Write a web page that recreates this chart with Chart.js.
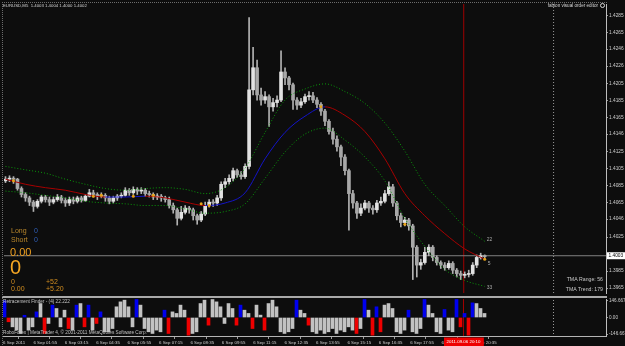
<!DOCTYPE html>
<html>
<head>
<meta charset="utf-8">
<script src="https://cdn.jsdelivr.net/npm/chart.js@4.4.1/dist/chart.umd.min.js"></script>
<style>
  html, body { margin: 0; padding: 0; background: #0d0d0d; }
  #wrap { position: relative; width: 625px; height: 346px; overflow: hidden; background: #0d0d0d; }
  #main { position: absolute; left: 0; top: 0; }
  #sub { position: absolute; left: 0; top: 297px; }
  #sep { position: absolute; left: 2px; top: 296px; width: 605px; height: 2px; background: #a9a9a9; }
  #frame { position: absolute; left: 2px; top: 2px; width: 604px; height: 344px;
           border-left: 1px dotted #6c6c6c; border-top: 1px dotted #6c6c6c; pointer-events: none; }
</style>
</head>
<body>
<div id="wrap">
  <canvas id="main" width="625" height="297"></canvas>
  <canvas id="sub" width="625" height="49"></canvas>
  <div id="sep"></div>
  <div id="frame"></div>
</div>
<script>
// EURUSD M5, 6 Sep 2011 (candles)
const open = [
  1.4091,1.4093,1.4094,1.4093,1.4082,1.4075,1.4071,1.4066,1.4061,1.4067,
  1.4072,1.4069,1.4066,1.4069,1.4072,1.4068,1.4065,1.4069,1.4067,1.4071,
  1.4068,1.4073,1.4077,1.4075,1.4073,1.4074,1.4071,1.4067,1.4071,1.4073,
  1.4074,1.4080,1.4077,1.4081,1.4079,1.4080,1.4076,1.4075,1.4072,1.4073,
  1.4071,1.4069,1.4062,1.4057,1.4047,1.4054,1.4059,1.4057,1.4050,1.4045,
  1.4052,1.4062,1.4066,1.4065,1.4071,1.4087,1.4090,1.4094,1.4103,1.4098,
  1.4096,1.4108,1.4198,1.4224,1.4192,1.4186,1.4190,1.4178,1.4183,1.4186,
  1.4219,1.4212,1.4204,1.4186,1.4180,1.4184,1.4190,1.4191,1.4186,1.4181,
  1.4173,1.4161,1.4149,1.4140,1.4131,1.4119,1.4103,1.4076,1.4065,1.4053,
  1.4059,1.4065,1.4059,1.4057,1.4065,1.4067,1.4076,1.4084,1.4065,1.4050,
  1.4042,1.4045,1.4038,1.4013,1.3992,1.3995,1.4007,1.4013,1.4001,1.3995,
  1.3992,1.3989,1.3994,1.3986,1.3982,1.3980,1.3981,1.3982,1.3992,1.4001,
  1.4003
];
const high = [
  1.4096,1.4097,1.4096,1.4094,1.4084,1.4077,1.4073,1.4068,1.4069,1.4074,
  1.4074,1.4072,1.4072,1.4075,1.4074,1.4071,1.4072,1.4072,1.4073,1.4073,
  1.4075,1.4081,1.4080,1.4077,1.4077,1.4076,1.4073,1.4073,1.4075,1.4077,
  1.4083,1.4082,1.4084,1.4083,1.4083,1.4082,1.4079,1.4077,1.4076,1.4075,
  1.4073,1.4072,1.4065,1.4059,1.4061,1.4062,1.4061,1.4059,1.4052,1.4055,
  1.4066,1.4069,1.4069,1.4074,1.4090,1.4094,1.4098,1.4106,1.4105,1.4102,
  1.4111,1.4283,1.4248,1.4233,1.4200,1.4196,1.4192,1.4188,1.4191,1.4244,
  1.4224,1.4214,1.4206,1.4189,1.4188,1.4193,1.4196,1.4195,1.4189,1.4183,
  1.4175,1.4163,1.4153,1.4144,1.4133,1.4122,1.4105,1.4080,1.4067,1.4064,
  1.4068,1.4067,1.4062,1.4068,1.4072,1.4080,1.4090,1.4087,1.4067,1.4053,
  1.4048,1.4047,1.4040,1.4015,1.3999,1.4013,1.4016,1.4015,1.4003,1.3997,
  1.3995,1.3997,1.3996,1.3988,1.3985,1.3984,1.3986,1.3995,1.4004,1.4006,
  1.4004
];
const low = [
  1.4089,1.4090,1.4088,1.4080,1.4072,1.4067,1.4062,1.4055,1.4059,1.4065,
  1.4066,1.4062,1.4064,1.4067,1.4065,1.4061,1.4062,1.4064,1.4065,1.4066,
  1.4067,1.4072,1.4072,1.4069,1.4071,1.4067,1.4064,1.4065,1.4068,1.4071,
  1.4073,1.4074,1.4075,1.4075,1.4076,1.4073,1.4072,1.4069,1.4069,1.4067,
  1.4066,1.4059,1.4053,1.4039,1.4045,1.4052,1.4053,1.4045,1.4040,1.4043,
  1.4050,1.4060,1.4061,1.4062,1.4068,1.4083,1.4087,1.4091,1.4095,1.4093,
  1.4094,1.4105,1.4192,1.4186,1.4180,1.4182,1.4155,1.4173,1.4178,1.4184,
  1.4204,1.4198,1.4175,1.4175,1.4177,1.4182,1.4186,1.4183,1.4177,1.4168,
  1.4156,1.4146,1.4134,1.4126,1.4109,1.4098,1.4033,1.4059,1.4047,1.4050,
  1.4057,1.4054,1.4052,1.4054,1.4062,1.4065,1.4074,1.4061,1.4045,1.4037,
  1.4038,1.4033,1.3975,1.3978,1.3987,1.3993,1.4003,1.3997,1.3992,1.3988,
  1.3986,1.3987,1.3982,1.3978,1.3975,1.3977,1.3978,1.3980,1.3989,1.3999,
  1.4000
];
const close = [
  1.4093,1.4094,1.4093,1.4082,1.4075,1.4071,1.4066,1.4061,1.4067,1.4072,
  1.4069,1.4066,1.4069,1.4072,1.4068,1.4065,1.4069,1.4067,1.4071,1.4068,
  1.4073,1.4077,1.4075,1.4073,1.4074,1.4071,1.4067,1.4071,1.4073,1.4074,
  1.4080,1.4077,1.4081,1.4079,1.4080,1.4076,1.4075,1.4072,1.4073,1.4071,
  1.4069,1.4062,1.4057,1.4047,1.4054,1.4059,1.4057,1.4050,1.4045,1.4052,
  1.4062,1.4066,1.4065,1.4071,1.4087,1.4090,1.4094,1.4103,1.4098,1.4096,
  1.4108,1.4198,1.4224,1.4192,1.4186,1.4190,1.4178,1.4183,1.4186,1.4219,
  1.4212,1.4204,1.4186,1.4180,1.4184,1.4190,1.4191,1.4186,1.4181,1.4173,
  1.4161,1.4149,1.4140,1.4131,1.4119,1.4103,1.4076,1.4065,1.4053,1.4059,
  1.4065,1.4059,1.4057,1.4065,1.4067,1.4076,1.4084,1.4065,1.4050,1.4042,
  1.4045,1.4038,1.4013,1.3992,1.3995,1.4007,1.4013,1.4001,1.3995,1.3992,
  1.3989,1.3994,1.3986,1.3982,1.3980,1.3981,1.3982,1.3992,1.4001,1.4003,
  1.4002
];

// TMA centre line and bands, sampled every 5 bars
const tmaBars = [0,5,10,15,20,25,30,35,40,45,50,55,60,65,70,75,80,85,90,95,100,105,110,115,120];
const tmaMid = [1.4093,1.4087,1.4083,1.4080,1.4075,1.4072,1.4072,1.4073,1.4071,1.4066,1.4062,1.4065,1.4077,
                1.4117,1.4148,1.4167,1.4178,1.4168,1.4149,1.4117,1.4076,1.4050,1.4029,1.4011,1.3999];
const tmaUp = [1.4108,1.4104,1.4100,1.4093,1.4087,1.4082,1.4080,1.4082,1.4083,1.4081,1.4076,1.4083,1.4106,
               1.4148,1.4186,1.4199,1.4205,1.4196,1.4182,1.4159,1.4126,1.4087,1.4062,1.4037,1.4020];
const tmaDn = [1.4079,1.4077,1.4074,1.4071,1.4067,1.4065,1.4064,1.4062,1.4062,1.4058,1.4053,1.4055,1.4064,
               1.4094,1.4125,1.4146,1.4153,1.4139,1.4119,1.4091,1.4047,1.4014,1.3987,1.3974,1.3967];

// signal dots on the price
const dotBars = [2,22,24,32,37,49,51,79,100,120];
const dotPrices = [1.4091,1.4073,1.4074,1.4073,1.4074,1.4064,1.4062,1.4178,1.4040,1.3999];

// Retracement Finder histogram
const osc = [
  150,-38,-83,-112,-142,20,-112,-83,50,124,
  -142,-53,110,80,-83,65,-98,-112,110,124,
  -83,110,-112,-53,50,-127,-127,-98,95,139,
  154,95,-83,160,110,-98,-127,-142,-112,-127,
  65,-142,50,36,110,65,-157,-142,-127,124,
  154,-68,160,139,95,-53,124,80,-68,110,
  65,36,-98,110,21,-112,124,154,95,-127,
  -142,-127,-98,154,65,36,-68,-127,-142,-112,
  -142,-127,-98,-142,-112,-127,-83,-112,-142,-98,
  160,65,-157,95,-127,110,124,80,-127,-142,
  -112,65,-127,-142,-98,160,110,36,-127,-142,
  71,-112,-127,160,-83,36,-157,130,124,80,
  36
];
const oscBlue = [0,5,8,12,18,21,24,33,40,59,73,90,93,101,105,110,113,115,117];
const oscRed = [1,10,16,20,23,41,46,51,58,62,65,76,88,92,94,114,116];
const oscLevels = [146.667, 0, -146.667];

const priceTicks = [1.4285,1.4265,1.4246,1.4226,1.4205,1.4185,1.4165,1.4146,1.4125,1.4105,
                    1.4085,1.4065,1.4046,1.4025,1.3985,1.3965];
const timeLabels = ['6 Sep 2011','6 Sep 01:55','6 Sep 03:15','6 Sep 04:35','6 Sep 05:55','6 Sep 07:15',
                    '6 Sep 08:35','6 Sep 09:55','6 Sep 11:15','6 Sep 12:35','6 Sep 13:55','6 Sep 15:15',
                    '6 Sep 16:35','6 Sep 17:55','6 Sep 19:15','6 Sep 20:35'];
const bid = 1.4003;
const cursorBar = 114.75;
const cursorLabel = '2011.09.06 20:10';
const shiftBar = 137.25;

const FONT = 'Liberation Sans';
const xMin = -0.375, xMax = 150.375;   // 4 px per bar, bar centres on half pixels
const priceMin = 1.39592, priceMax = 1.42989;
const timeStart = -0.625, timeStep = 7.85; // 80 minutes in bar widths
const BLUE = '#1414c8', RED = '#a80000';

Chart.defaults.font.family = FONT;

const noPad = s => { s.paddingTop = 0; s.paddingBottom = 0; s.paddingLeft = 0; s.paddingRight = 0; };

const textPlugin = {
  id: 'texts',
  afterDraw(chart) {
    const ctx = chart.ctx, sx = chart.scales.x, sy = chart.scales.y;
    const put = (t, x, y, size, color, align) => {
      ctx.font = size + 'px ' + FONT;
      ctx.fillStyle = color;
      ctx.textAlign = align || 'left';
      ctx.textBaseline = 'middle';
      ctx.fillText(t, x, y);
    };
    ctx.save();
    put('EURUSD,M5  1.4003 1.4004 1.4000 1.4002', 3, 5.5, 4.3, '#d6d6d6');
    put('fabion visual order editor', 598, 5.5, 4.6, '#d6d6d6', 'right');
    ctx.strokeStyle = '#d6d6d6'; ctx.lineWidth = 1;
    ctx.beginPath(); ctx.arc(602.5, 5.5, 2, 0, Math.PI * 2); ctx.stroke();

    put('Long', 11, 231, 7, '#b8862b');  put('0', 34, 231, 7, '#2f5fb8');
    put('Short', 11, 240, 7, '#b8862b'); put('0', 34, 240, 7, '#2f5fb8');
    put('0.00', 10, 252.5, 11, '#f0a020');
    put('0', 10, 268, 20, '#f5a623');
    put('0', 11, 282, 7, '#d08c20');     put('+52', 46, 282, 7, '#d08c20');
    put('0.00', 11, 289.5, 7, '#d08c20'); put('+5.20', 46, 289.5, 7, '#d08c20');

    put('TMA Range: 56', 603, 280, 5.2, '#c8c8c8', 'right');
    put('TMA Trend: 179', 603, 290, 5.2, '#c8c8c8', 'right');

    const lx = sx.getPixelForValue(tmaBars[tmaBars.length - 1]) + 2;
    put('22', lx, sy.getPixelForValue(tmaUp[tmaUp.length - 1]) - 2, 5, '#a8a8a8');
    put('5', lx + 1, sy.getPixelForValue(tmaMid[tmaMid.length - 1]) + 4, 5, '#a8a8a8');
    put('33', lx, sy.getPixelForValue(tmaDn[tmaDn.length - 1]) + 1, 5, '#a8a8a8');

    // bid price box on the axis
    const by = sy.getPixelForValue(bid);
    ctx.fillStyle = '#ffffff';
    ctx.fillRect(607, by - 3.5, 18, 7);
    put(bid.toFixed(4), 608.5, by, 4.8, '#000000');
    ctx.restore();
  }
};

new Chart(document.getElementById('main'), {
  type: 'bar',
  data: {
    datasets: [
      { type: 'line', label: 'bid', data: [{ x: xMin, y: bid }, { x: xMax, y: bid }],
        borderColor: '#808080', borderWidth: 1, pointRadius: 0, order: 10 },
      { type: 'line', label: 'cursor', data: [{ x: cursorBar, y: priceMin }, { x: cursorBar, y: priceMax }],
        borderColor: '#a00000', borderWidth: 1, pointRadius: 0, order: 10 },
      { type: 'line', label: 'shift', data: [{ x: shiftBar, y: priceMin }, { x: shiftBar, y: priceMax }],
        borderColor: '#9a9a9a', borderWidth: 1, borderDash: [1, 2], pointRadius: 0, order: 10 },
      { label: 'wick', data: close.map((c, i) => ({ x: i, y: [low[i], high[i]] })),
        backgroundColor: '#b2b2b2', barThickness: 1, grouped: false, order: 5 },
      { label: 'body', data: close.map((c, i) => ({ x: i, y: [open[i], c] })),
        backgroundColor: ctx => (ctx.raw && ctx.raw.y[1] >= ctx.raw.y[0]) ? '#e2e2e2' : '#a8a8a8',
        barThickness: 3, minBarLength: 1, grouped: false, order: 4 },
      { type: 'line', label: 'upper', data: tmaBars.map((b, k) => ({ x: b, y: tmaUp[k] })),
        borderColor: '#0a9a0a', borderWidth: 1, borderDash: [1, 2], pointRadius: 0,
        cubicInterpolationMode: 'monotone', order: 3 },
      { type: 'line', label: 'lower', data: tmaBars.map((b, k) => ({ x: b, y: tmaDn[k] })),
        borderColor: '#0a9a0a', borderWidth: 1, borderDash: [1, 2], pointRadius: 0,
        cubicInterpolationMode: 'monotone', order: 3 },
      { type: 'line', label: 'tma', data: tmaBars.map((b, k) => ({ x: b, y: tmaMid[k] })),
        borderColor: RED, borderWidth: 1, pointRadius: 0, cubicInterpolationMode: 'monotone',
        segment: { borderColor: c => c.p1.parsed.y >= c.p0.parsed.y ? BLUE : RED }, order: 2 },
      { type: 'line', label: 'dots', data: dotBars.map((b, k) => ({ x: b, y: dotPrices[k] })),
        showLine: false, pointRadius: 1.5, pointBorderWidth: 0, pointBackgroundColor: '#e8a317', order: 1 }
    ]
  },
  options: {
    responsive: false,
    devicePixelRatio: 1,
    animation: false,
    events: [],
    layout: { padding: { left: 3, top: 3, right: 0, bottom: 1 } },
    plugins: { legend: { display: false }, tooltip: { enabled: false } },
    scales: {
      x: { type: 'linear', min: xMin, max: xMax, offset: false, display: false },
      y: {
        type: 'linear', position: 'right', min: priceMin, max: priceMax, beginAtZero: false,
        afterFit: s => { s.width = 19; noPad(s); },
        afterBuildTicks: s => { s.ticks = priceTicks.map(v => ({ value: v })); },
        ticks: { callback: v => v.toFixed(4), color: '#cfcfcf', font: { size: 4.8 }, padding: 1, autoSkip: false },
        grid: { drawOnChartArea: false, drawTicks: true, tickLength: 2, color: '#9a9a9a' },
        border: { display: true, color: '#bdbdbd' }
      }
    }
  },
  plugins: [textPlugin]
});

const subPlugin = {
  id: 'subTexts',
  afterDraw(chart) {
    const ctx = chart.ctx, sx = chart.scales.x, area = chart.chartArea;
    ctx.save();
    ctx.textBaseline = 'middle';
    ctx.textAlign = 'left';
    ctx.font = '4.7px ' + FONT;
    ctx.fillStyle = '#c4c4c4';
    ctx.fillText('Retracement Finder - (4) 22.222', 3, 5);
    ctx.fillText('RoboForex | MetaTrader 4, \u00a9 2001-2011 MetaQuotes Software Corp.', 3, 35.5);
    // crosshair time box
    const px = sx.getPixelForValue(cursorBar);
    ctx.font = '4.4px ' + FONT;
    const w = ctx.measureText(cursorLabel).width + 6;
    ctx.fillStyle = '#ee0000';
    ctx.fillRect(Math.round(px - w / 2), area.bottom + 1.5, w, 8.5);
    ctx.fillStyle = '#ffffff';
    ctx.textAlign = 'center';
    ctx.fillText(cursorLabel, px, area.bottom + 5.8);
    ctx.restore();
  }
};

new Chart(document.getElementById('sub'), {
  type: 'bar',
  data: {
    datasets: [
      { type: 'line', label: 'cursor', data: [{ x: cursorBar, y: -200 }, { x: cursorBar, y: 200 }],
        borderColor: '#a00000', borderWidth: 1, pointRadius: 0, order: 10 },
      { type: 'line', label: 'shift', data: [{ x: shiftBar, y: -200 }, { x: shiftBar, y: 200 }],
        borderColor: '#9a9a9a', borderWidth: 1, borderDash: [1, 2], pointRadius: 0, order: 10 },
      { label: 'Retracement Finder', data: osc.map((v, i) => ({ x: i, y: v })),
        backgroundColor: c => oscBlue.includes(c.dataIndex) ? '#0000ee' : (oscRed.includes(c.dataIndex) ? '#ee0000' : '#c2c2c2'),
        barThickness: 3, grouped: false, order: 1 }
    ]
  },
  options: {
    responsive: false,
    devicePixelRatio: 1,
    animation: false,
    events: [],
    layout: { padding: { left: 3, top: 2, right: 0, bottom: 0 } },
    plugins: { legend: { display: false }, tooltip: { enabled: false } },
    scales: {
      x: {
        type: 'linear', min: xMin, max: xMax, offset: false, position: 'bottom',
        afterFit: s => { s.height = 10; noPad(s); },
        afterBuildTicks: s => { s.ticks = timeLabels.map((_, k) => ({ value: Math.max(xMin, timeStart + k * timeStep) })); },
        ticks: { callback: (v, k) => timeLabels[k], align: 'start', maxRotation: 0, autoSkip: false,
                 padding: 1, color: '#cfcfcf', font: { size: 4.4 } },
        grid: { drawOnChartArea: false, drawTicks: true, tickLength: 3, color: '#9a9a9a' },
        border: { display: true, color: '#b4b4b4' }
      },
      y: {
        type: 'linear', position: 'right', min: -164.4, max: 164.4, beginAtZero: false,
        afterFit: s => { s.width = 19; noPad(s); },
        afterBuildTicks: s => { s.ticks = oscLevels.map(v => ({ value: v })); },
        ticks: { callback: v => v === 0 ? '0.00' : v.toFixed(3), color: '#cfcfcf', font: { size: 4.6 }, padding: 1, autoSkip: false },
        grid: { drawOnChartArea: false, drawTicks: true, tickLength: 2, color: '#9a9a9a' },
        border: { display: true, color: '#bdbdbd' }
      }
    }
  },
  plugins: [subPlugin]
});
</script>
</body>
</html>
